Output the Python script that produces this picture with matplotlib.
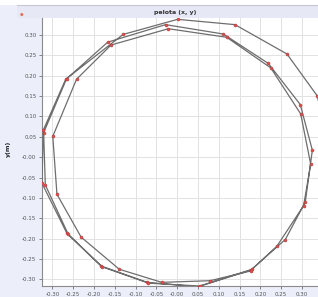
import numpy as np
import matplotlib
matplotlib.use('Agg')
import matplotlib.pyplot as plt
from matplotlib.lines import Line2D

# trayectoria de la pelota (x, y), en orden, ~3 vueltas
x = [0.365, 0.337, 0.264, 0.139, 0.001, -0.130, -0.268, -0.322, -0.325,
     -0.265, -0.183, -0.072, 0.050, 0.177, 0.260, 0.308, 0.325,
     0.296, 0.219, 0.111, -0.028, -0.167, -0.266, -0.321, -0.317,
     -0.262, -0.180, -0.069, 0.054, 0.180, 0.240, 0.304, 0.321,
     0.297, 0.225, 0.119, -0.021, -0.159, -0.242, -0.299, -0.289,
     -0.231, -0.139, -0.037, 0.079, 0.177]
y = [0.020, 0.150, 0.253, 0.325, 0.338, 0.301, 0.191, 0.066, -0.064,
     -0.187, -0.267, -0.307, -0.318, -0.277, -0.202, -0.110, 0.017,
     0.129, 0.230, 0.302, 0.325, 0.282, 0.192, 0.060, -0.068,
     -0.189, -0.269, -0.309, -0.316, -0.275, -0.218, -0.119, -0.017,
     0.106, 0.219, 0.294, 0.315, 0.275, 0.191, 0.051, -0.091,
     -0.196, -0.275, -0.307, -0.303, -0.279]

ticks = [-0.30, -0.25, -0.20, -0.15, -0.10, -0.05, 0.00, 0.05, 0.10, 0.15, 0.20, 0.25, 0.30]
xlabels = ['-0.30', '-0.25', '-0.20', '-0.15', '-0.10', '-0.05', '-0.00', '0.05', '0.10', '0.15', '0.20', '0.25', '0.30']
ylabels = ['-0.30', '-0.25', '-0.20', '-0.15', '-0.10', '-0.05', '-0.00', '0.05', '0.10', '0.15', '0.20', '0.25', '0.30']

fondo = '#eceefa'
fig = plt.figure(figsize=(3.18, 2.97), dpi=100, facecolor=fondo)
ax = fig.add_axes([0.132, 0.037, 0.896, 0.902])
ax.set_facecolor('white')

ax.plot(x, y, color='#6e6e6e', lw=0.9, zorder=3)
ax.plot(x, y, 'o', color='#d9534f', ms=2.2, mec='#b03030', mew=0.3, zorder=4)

ax.set_xlim(-0.325, 0.36)
ax.set_ylim(-0.316, 0.341)
ax.set_xticks(ticks)
ax.set_xticklabels(xlabels)
ax.set_yticks(ticks)
ax.set_yticklabels(ylabels)
ax.tick_params(labelsize=4, colors='#555555', length=2, width=0.5, pad=2)
ax.grid(True, color='#e2e2e2', lw=0.7)
ax.set_axisbelow(True)
for s in ['top', 'right']:
    ax.spines[s].set_visible(False)
for s in ['left', 'bottom']:
    ax.spines[s].set_color('#8a8a8a')
    ax.spines[s].set_linewidth(0.8)

# barra de titulo
fig.add_artist(plt.Rectangle((17 / 318, 0.939), 1, 0.044, transform=fig.transFigure,
                             facecolor='#e6e8f6', edgecolor='none', zorder=0))
fig.add_artist(Line2D([17 / 318, 1], [0.983, 0.983], transform=fig.transFigure,
                      color='#c8c8d4', lw=0.8))
fig.add_artist(plt.Rectangle((0, 0.983), 1, 0.02, transform=fig.transFigure,
                             facecolor='white', edgecolor='none', zorder=0))
fig.text(0.55, 0.957, 'pelota (x, y)', fontsize=4.5, fontweight='bold',
         ha='center', va='center', color='#333333')
fig.text(0.025, 0.5, 'y(m)', fontsize=4.5, fontweight='bold', rotation=90,
         ha='center', va='center', color='#222222')
fig.text(0.069, 0.95, '●', fontsize=3, color='#e07050', ha='center', va='center')

fig.savefig('out.png', dpi=100, facecolor=fondo)
